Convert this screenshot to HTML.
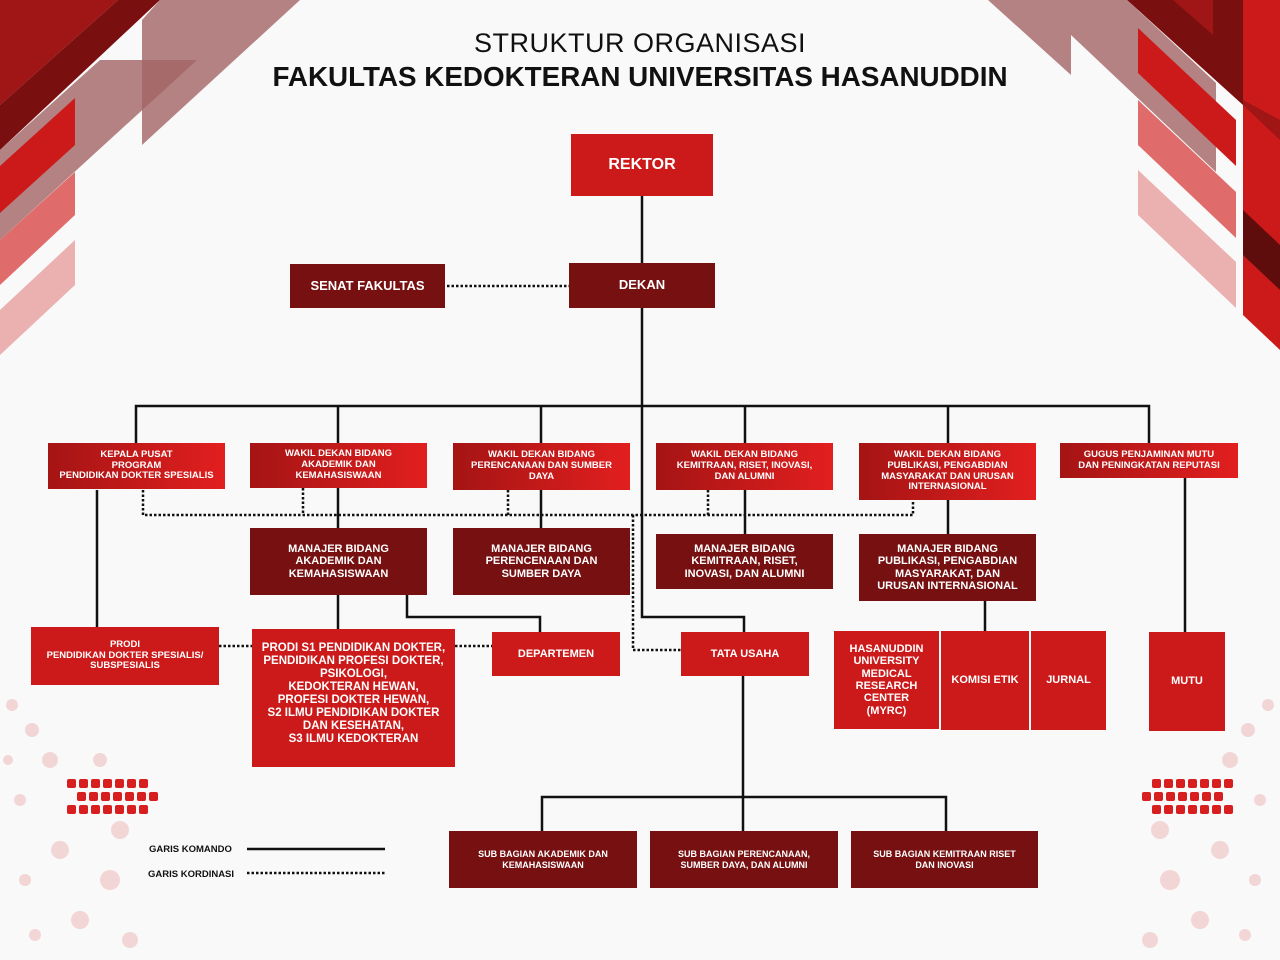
<!DOCTYPE html>
<html><head><meta charset="utf-8"><style>
*{margin:0;padding:0;box-sizing:border-box}
body{width:1280px;height:960px;background:#f9f9f9;position:relative;overflow:hidden;font-family:"Liberation Sans",sans-serif}
svg.bg{position:absolute;left:0;top:0}
.b{position:absolute;display:flex;align-items:center;justify-content:center;text-align:center;color:#fff;font-weight:bold;line-height:1.13}
.r{background:linear-gradient(90deg,#a51414,#e21f1f)}
.s{background:#cc1a1a}
.d{background:#761011}
.t{position:absolute;width:1280px;text-align:center;color:#111}
</style></head><body>
<svg class="bg" width="1280" height="960">
<g>
<polygon points="0,0 118,0 0,105" fill="#a01515"/>
<polygon points="118,0 160,0 0,150 0,105" fill="#7a0f10"/>
<polygon points="142,20 160,0 300,0 142,145" fill="#a26464" opacity="0.8"/>
<polygon points="100,60 197,60 0,240 0,150" fill="#a26464" opacity="0.8"/>
<polygon points="75,98 75,145 0,213 0,166" fill="#cc1a1a"/>
<polygon points="75,172 75,215 0,285 0,240" fill="#e06b6b"/>
<polygon points="75,240 75,285 0,355 0,310" fill="#ebb0b0"/>

<polygon points="988,0 1071,0 1071,75" fill="#a26464" opacity="0.8"/>
<polygon points="1071,0 1127,0 1216,83 1216,172 1071,35" fill="#a26464" opacity="0.8"/>
<polygon points="1127,0 1243,0 1243,105" fill="#7a0f10"/>
<polygon points="1173,0 1213,0 1213,35" fill="#a01515"/>
<polygon points="1138,28 1236,120 1236,166 1138,73" fill="#cc1a1a"/>
<polygon points="1138,100 1236,192 1236,238 1138,145" fill="#e06b6b"/>
<polygon points="1138,170 1236,262 1236,308 1138,215" fill="#ebb0b0"/>
<polygon points="1243,0 1280,0 1280,350 1243,315" fill="#cc1a1a"/>
<polygon points="1243,105 1280,140 1280,120 1243,100" fill="#a01515"/>
<polygon points="1243,210 1280,245 1280,290 1243,255" fill="#5e0c0c"/>
</g>
<g fill="#f2d6d6">
<circle cx="12" cy="705" r="6"/><circle cx="32" cy="730" r="7"/><circle cx="50" cy="760" r="8"/><circle cx="8" cy="760" r="5"/><circle cx="20" cy="800" r="6"/><circle cx="60" cy="850" r="9"/><circle cx="110" cy="880" r="10"/><circle cx="25" cy="880" r="6"/><circle cx="80" cy="920" r="9"/><circle cx="130" cy="940" r="8"/><circle cx="35" cy="935" r="6"/><circle cx="120" cy="830" r="9"/><circle cx="100" cy="760" r="7"/>
<circle cx="1268" cy="705" r="6"/><circle cx="1248" cy="730" r="7"/><circle cx="1230" cy="760" r="8"/><circle cx="1260" cy="800" r="6"/><circle cx="1220" cy="850" r="9"/><circle cx="1170" cy="880" r="10"/><circle cx="1255" cy="880" r="6"/><circle cx="1200" cy="920" r="9"/><circle cx="1150" cy="940" r="8"/><circle cx="1245" cy="935" r="6"/><circle cx="1160" cy="830" r="9"/>
</g>
<g fill="#d81f1f">
<rect x="67" y="779" width="9" height="9" rx="2"/><rect x="79" y="779" width="9" height="9" rx="2"/><rect x="91" y="779" width="9" height="9" rx="2"/><rect x="103" y="779" width="9" height="9" rx="2"/><rect x="115" y="779" width="9" height="9" rx="2"/><rect x="127" y="779" width="9" height="9" rx="2"/><rect x="139" y="779" width="9" height="9" rx="2"/>
<rect x="77" y="792" width="9" height="9" rx="2"/><rect x="89" y="792" width="9" height="9" rx="2"/><rect x="101" y="792" width="9" height="9" rx="2"/><rect x="113" y="792" width="9" height="9" rx="2"/><rect x="125" y="792" width="9" height="9" rx="2"/><rect x="137" y="792" width="9" height="9" rx="2"/><rect x="149" y="792" width="9" height="9" rx="2"/>
<rect x="67" y="805" width="9" height="9" rx="2"/><rect x="79" y="805" width="9" height="9" rx="2"/><rect x="91" y="805" width="9" height="9" rx="2"/><rect x="103" y="805" width="9" height="9" rx="2"/><rect x="115" y="805" width="9" height="9" rx="2"/><rect x="127" y="805" width="9" height="9" rx="2"/><rect x="139" y="805" width="9" height="9" rx="2"/>
<rect x="1152" y="779" width="9" height="9" rx="2"/><rect x="1164" y="779" width="9" height="9" rx="2"/><rect x="1176" y="779" width="9" height="9" rx="2"/><rect x="1188" y="779" width="9" height="9" rx="2"/><rect x="1200" y="779" width="9" height="9" rx="2"/><rect x="1212" y="779" width="9" height="9" rx="2"/><rect x="1224" y="779" width="9" height="9" rx="2"/>
<rect x="1142" y="792" width="9" height="9" rx="2"/><rect x="1154" y="792" width="9" height="9" rx="2"/><rect x="1166" y="792" width="9" height="9" rx="2"/><rect x="1178" y="792" width="9" height="9" rx="2"/><rect x="1190" y="792" width="9" height="9" rx="2"/><rect x="1202" y="792" width="9" height="9" rx="2"/><rect x="1214" y="792" width="9" height="9" rx="2"/>
<rect x="1152" y="805" width="9" height="9" rx="2"/><rect x="1164" y="805" width="9" height="9" rx="2"/><rect x="1176" y="805" width="9" height="9" rx="2"/><rect x="1188" y="805" width="9" height="9" rx="2"/><rect x="1200" y="805" width="9" height="9" rx="2"/><rect x="1212" y="805" width="9" height="9" rx="2"/><rect x="1224" y="805" width="9" height="9" rx="2"/>
</g>
<g stroke="#111" stroke-width="2.5" fill="none">
<path d="M642 196V617H744V632"/>
<path d="M136 443V406H1149V443"/>
<path d="M338 406V443M541 406V443M745 406V443M948 406V443"/>
<path d="M97 490V627"/>
<path d="M338 488V528M338 595V629"/>
<path d="M407 595V617H540V632"/>
<path d="M541 490V528M745 490V534M948 500V534M985 601V631M1185 478V632"/>
<path d="M743 676V797M542 831V797H946V831M743 797V831"/>
<path d="M247 849H385"/>
</g>
<g stroke="#111" stroke-width="2.5" fill="none" stroke-dasharray="2.5 2">
<path d="M447 286H569"/>
<path d="M143 490V515H913V500"/>
<path d="M303 488V515M508 490V515M708 490V515"/>
<path d="M633 515V650H681"/>
<path d="M219 646H252M455 646H492"/>
<path d="M247 873H385"/>
</g>
</svg>

<div class="t" style="top:28px;font-size:27px;letter-spacing:0.5px">STRUKTUR ORGANISASI</div>
<div class="t" style="top:61px;font-size:27.8px;font-weight:bold">FAKULTAS KEDOKTERAN UNIVERSITAS HASANUDDIN</div>

<div class="b s" style="left:571px;top:134px;width:142px;height:62px;font-size:16px">REKTOR</div>
<div class="b d" style="left:569px;top:263px;width:146px;height:45px;font-size:13px">DEKAN</div>
<div class="b d" style="left:290px;top:264px;width:155px;height:44px;font-size:13px">SENAT FAKULTAS</div>

<div class="b r" style="left:48px;top:443px;width:177px;height:46px;font-size:9.5px">KEPALA PUSAT<br>PROGRAM<br>PENDIDIKAN DOKTER SPESIALIS</div>
<div class="b r" style="left:250px;top:443px;width:177px;height:45px;font-size:9.5px">WAKIL DEKAN BIDANG<br>AKADEMIK DAN<br>KEMAHASISWAAN</div>
<div class="b r" style="left:453px;top:443px;width:177px;height:47px;font-size:9.5px">WAKIL DEKAN BIDANG<br>PERENCANAAN DAN SUMBER<br>DAYA</div>
<div class="b r" style="left:656px;top:443px;width:177px;height:47px;font-size:9.5px">WAKIL DEKAN BIDANG<br>KEMITRAAN, RISET, INOVASI,<br>DAN ALUMNI</div>
<div class="b r" style="left:859px;top:443px;width:177px;height:57px;font-size:9.5px">WAKIL DEKAN BIDANG<br>PUBLIKASI, PENGABDIAN<br>MASYARAKAT DAN URUSAN<br>INTERNASIONAL</div>
<div class="b r" style="left:1060px;top:443px;width:178px;height:35px;font-size:9.5px">GUGUS PENJAMINAN MUTU<br>DAN PENINGKATAN REPUTASI</div>

<div class="b d" style="left:250px;top:528px;width:177px;height:67px;font-size:11px">MANAJER BIDANG<br>AKADEMIK DAN<br>KEMAHASISWAAN</div>
<div class="b d" style="left:453px;top:528px;width:177px;height:67px;font-size:11px">MANAJER BIDANG<br>PERENCENAAN DAN<br>SUMBER DAYA</div>
<div class="b d" style="left:656px;top:534px;width:177px;height:55px;font-size:11px">MANAJER BIDANG<br>KEMITRAAN, RISET,<br>INOVASI, DAN ALUMNI</div>
<div class="b d" style="left:859px;top:534px;width:177px;height:67px;font-size:11px">MANAJER BIDANG<br>PUBLIKASI, PENGABDIAN<br>MASYARAKAT, DAN<br>URUSAN INTERNASIONAL</div>

<div class="b s" style="left:31px;top:627px;width:188px;height:58px;font-size:9.5px">PRODI<br>PENDIDIKAN DOKTER SPESIALIS/<br>SUBSPESIALIS</div>
<div class="b s" style="left:252px;top:629px;width:203px;height:138px;font-size:11.5px;align-items:flex-start;padding-top:13px">PRODI S1 PENDIDIKAN DOKTER,<br>PENDIDIKAN PROFESI DOKTER,<br>PSIKOLOGI,<br>KEDOKTERAN HEWAN,<br>PROFESI DOKTER HEWAN,<br>S2 ILMU PENDIDIKAN DOKTER<br>DAN KESEHATAN,<br>S3 ILMU KEDOKTERAN</div>
<div class="b s" style="left:492px;top:632px;width:128px;height:44px;font-size:11px">DEPARTEMEN</div>
<div class="b s" style="left:681px;top:632px;width:128px;height:44px;font-size:11px">TATA USAHA</div>
<div class="b s" style="left:834px;top:631px;width:105px;height:98px;font-size:11px">HASANUDDIN<br>UNIVERSITY<br>MEDICAL<br>RESEARCH<br>CENTER<br>(MYRC)</div>
<div class="b s" style="left:941px;top:631px;width:88px;height:99px;font-size:11px">KOMISI ETIK</div>
<div class="b s" style="left:1031px;top:631px;width:75px;height:99px;font-size:11px">JURNAL</div>
<div class="b s" style="left:1149px;top:632px;width:76px;height:99px;font-size:11px">MUTU</div>

<div class="b d" style="left:449px;top:831px;width:188px;height:57px;font-size:9px">SUB BAGIAN AKADEMIK DAN<br>KEMAHASISWAAN</div>
<div class="b d" style="left:650px;top:831px;width:188px;height:57px;font-size:9px">SUB BAGIAN PERENCANAAN,<br>SUMBER DAYA, DAN ALUMNI</div>
<div class="b d" style="left:851px;top:831px;width:187px;height:57px;font-size:9px">SUB BAGIAN KEMITRAAN RISET<br>DAN INOVASI</div>

<div style="position:absolute;left:149px;top:844px;font-size:9.5px;font-weight:bold;color:#111">GARIS KOMANDO</div>
<div style="position:absolute;left:148px;top:869px;font-size:9.5px;font-weight:bold;color:#111">GARIS KORDINASI</div>
</body></html>
